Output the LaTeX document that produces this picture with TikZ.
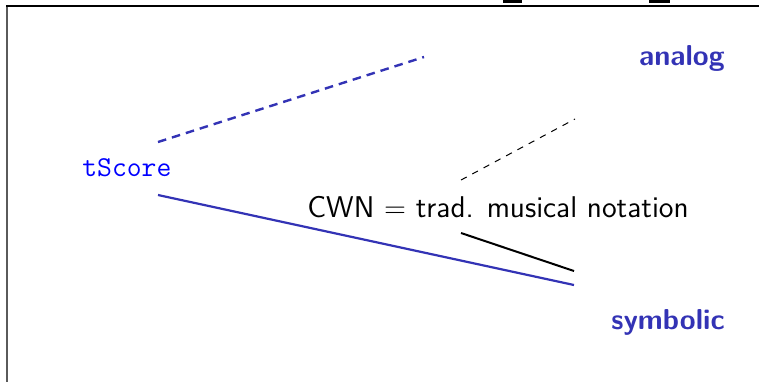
\documentclass[tikz,border=0pt]{standalone}
\usepackage{tikz}
\definecolor{labblue}{RGB}{51,51,181}
\definecolor{ttblue}{RGB}{0,0,255}
\definecolor{framegray}{RGB}{90,90,90}
\begin{document}
\begin{tikzpicture}[x=0.5pt,y=-0.5pt,
  lab/.style={inner sep=0pt,font=\fontsize{14.4}{17}\selectfont\sffamily\bfseries,text=labblue},
  ttlab/.style={inner sep=0pt,font=\fontsize{14.4}{17}\selectfont\ttfamily,text=ttblue},
  plainlab/.style={inner sep=0pt,font=\fontsize{15}{18}\selectfont\sffamily},
  bluelink/.style={draw=labblue,line width=1.1pt},
  bluedash/.style={draw=labblue,line width=1.2pt,dash pattern=on 4.3pt off 3pt},
  blacklink/.style={draw=black,line width=1pt},
  blackdash/.style={draw=black,line width=0.5pt,dash pattern=on 3.2pt off 3.2pt}]
\useasboundingbox (0,0) rectangle (759,382);
% frame edges
\draw[framegray,line width=1pt] (7,6) -- (7,382);
\draw[black,line width=1pt] (6,6) -- (759,6);
\fill[black] (503,0) rectangle (522,3);
\fill[black] (649,0) rectangle (670,3);
% labels
\node[ttlab,anchor=base west] (ts) at (82,176) {tScore};
\node[lab,anchor=base east] (an) at (725,65) {analog};
\node[lab,anchor=base east] (sy) at (725,329) {symbolic};
\node[plainlab,anchor=base west] (cwn) at (307,217) {CWN $=$ trad. musical notation};
% connector end points
\coordinate (tsA) at (158,142);
\coordinate (anA) at (424,57);
\coordinate (tsS) at (158,195);
\coordinate (syS) at (574,285);
\coordinate (cwnA) at (461,180);
\coordinate (anC) at (575,119);
\coordinate (cwnS) at (461,233);
\coordinate (syC) at (574,271);
% connectors
\draw[bluedash] (tsA) -- (anA);
\draw[bluelink] (tsS) -- (syS);
\draw[blackdash] (cwnA) -- (anC);
\draw[blacklink] (cwnS) -- (syC);
\end{tikzpicture}
\end{document}
